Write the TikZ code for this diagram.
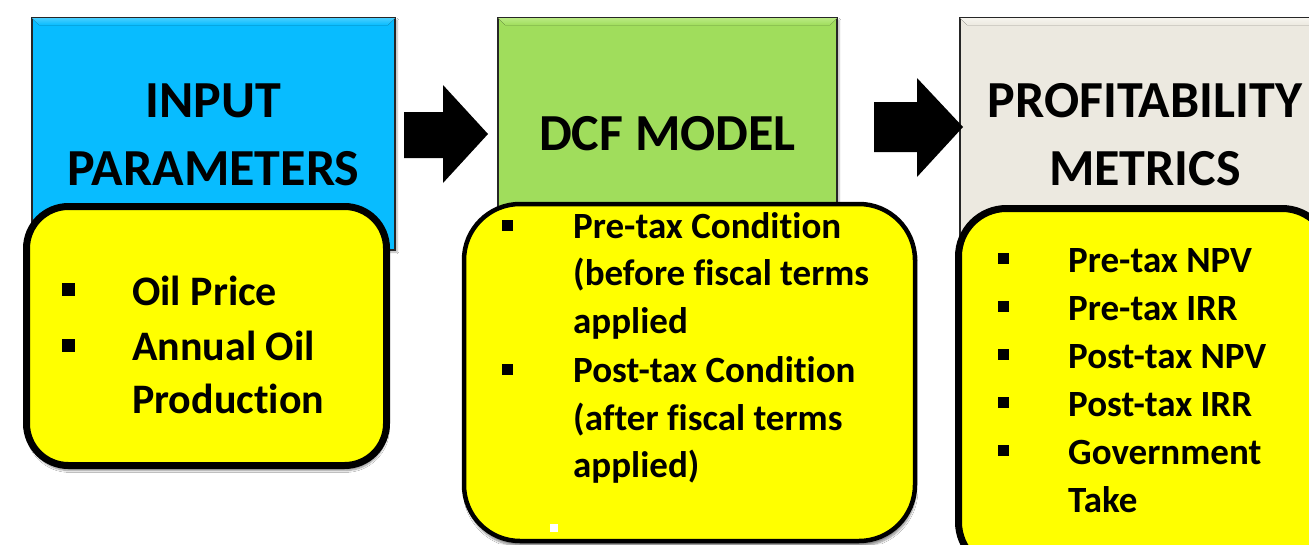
\documentclass[tikz,border=0pt]{standalone}
\usepackage{fontspec}
\setmainfont{Carlito}[Ligatures=NoCommon]
\usetikzlibrary{calc,shadows.blur}

\definecolor{inblue}{RGB}{8,188,255}
\definecolor{inbluelt}{RGB}{70,206,255}
\definecolor{dcfgreen}{RGB}{160,221,92}
\definecolor{dcfgreenlt}{RGB}{185,234,130}
\definecolor{metbeige}{RGB}{236,233,224}
\definecolor{metbeigelt}{RGB}{246,244,238}
\definecolor{listyellow}{RGB}{255,255,0}

\begin{document}
\begin{tikzpicture}[x=1pt,y=-1pt,
  stagebox/.style={draw=black!85, line width=1.3pt, inner sep=0pt,
    blur shadow={shadow xshift=2pt, shadow yshift=-2pt, shadow opacity=30, shadow blur steps=5}},
  listbox/.style={draw=black, fill=listyellow, inner sep=0pt,
    blur shadow={shadow xshift=1pt, shadow yshift=-5pt, shadow opacity=45, shadow blur steps=8}},
  heading/.style={font=\bfseries\fontsize{52}{62}\selectfont, inner sep=0pt, anchor=base},
  itemlarge/.style={font=\bfseries\fontsize{42}{50}\selectfont, inner sep=0pt, anchor=base west},
  itemsmall/.style={font=\bfseries\fontsize{37}{44}\selectfont, inner sep=0pt, anchor=base west},
  bulletsq/.style={fill=black, minimum size=11pt, inner sep=0pt},
  blockarrow/.style={fill=black}
]
\useasboundingbox (0,0) rectangle (1309,544);
\clip (0,0) rectangle (1309,544);
\fill[white] (0,0) rectangle (1309,544);

% ---- stage boxes ----
\node[stagebox, fill=inblue, minimum width=363pt, minimum height=232pt] (inbox) at (213.5,134) {};
\fill[top color=inbluelt, bottom color=inblue]
  ($(inbox.north west)+(0.7,0.7)$) -- ($(inbox.north east)+(-0.7,0.7)$) -- ++(-7,7)
  -- ($(inbox.north west)+(7.7,7.7)$) -- cycle;

\node[stagebox, fill=dcfgreen, minimum width=339pt, minimum height=212pt] (dcfbox) at (667.5,124) {};
\fill[top color=dcfgreenlt, bottom color=dcfgreen]
  ($(dcfbox.north west)+(0.7,0.7)$) -- ($(dcfbox.north east)+(-0.7,0.7)$) -- ++(-7,7)
  -- ($(dcfbox.north west)+(7.7,7.7)$) -- cycle;

\node[stagebox, fill=metbeige, minimum width=370pt, minimum height=222pt] (metbox) at (1145,129) {};
\fill[top color=metbeigelt, bottom color=metbeige]
  ($(metbox.north west)+(0.7,0.7)$) -- ($(metbox.north east)+(-0.7,0.7)$) -- ++(-7,7)
  -- ($(metbox.north west)+(7.7,7.7)$) -- cycle;

% ---- headings ----
\node[heading] (hin1) at (213.5,117) {INPUT};
\node[heading] (hin2) at (213.5,185) {PARAMETERS};
\node[heading] (hdcf) at (667.5,150) {DCF MODEL};
\node[heading] (hmet1) at (1145,117) {PROFITABILITY};
\node[heading] (hmet2) at (1145,185) {METRICS};

% ---- block arrows between stages ----
\fill[blockarrow] (404,112) -- (443,112) -- (443,85) -- (488,134) -- (443,183) -- (443,158) -- (404,158) -- cycle;
\fill[blockarrow] (874,102) -- (917,102) -- (917,78) -- (963,127) -- (917,177) -- (917,152) -- (874,152) -- cycle;

% ---- yellow lists ----
\node[listbox, line width=7pt, rounded corners=42pt, minimum width=360pt, minimum height=259pt] (inlist) at (206.5,336) {};
\node[listbox, line width=4.5pt, rounded corners=56pt, minimum width=451pt, minimum height=337pt] (dcflist) at (689.5,372.5) {};
\node[listbox, line width=7pt, rounded corners=48pt, minimum width=371.5pt, minimum height=361.5pt] (metlist) at (1144.25,389.25) {};

% input parameters
\node[bulletsq, minimum size=13pt] (bin1) at (68.5,289) {};
\node[bulletsq, minimum size=13pt] (bin2) at (68.5,345) {};
\node[itemlarge] (tin1) at (132,305) {Oil Price};
\node[itemlarge] (tin2) at (132,360) {Annual Oil};
\node[itemlarge] (tin3) at (132,413) {Production};

% dcf model
\node[bulletsq] (bdcf1) at (507.5,225) {};
\node[bulletsq] (bdcf2) at (507.5,369) {};
\node[itemsmall] (tdcf1) at (573,238) {Pre-tax Condition};
\node[itemsmall] (tdcf2) at (573,285) {(before fiscal terms};
\node[itemsmall] (tdcf3) at (573,333) {applied};
\node[itemsmall] (tdcf4) at (573,382) {Post-tax Condition};
\node[itemsmall] (tdcf5) at (573,430) {(after fiscal terms};
\node[itemsmall] (tdcf6) at (573,477) {applied)};
\node[fill=white, minimum size=8pt, inner sep=0pt] (bdcf3) at (554,527.5) {};

% profitability metrics
\foreach \yb [count=\i] in {258,306,354,402,450}
  \node[bulletsq] (bmet\i) at (1003.5,\yb) {};
\node[itemsmall] (tmet1) at (1068,272) {Pre-tax NPV};
\node[itemsmall] (tmet2) at (1068,320) {Pre-tax IRR};
\node[itemsmall] (tmet3) at (1068,368) {Post-tax NPV};
\node[itemsmall] (tmet4) at (1068,416) {Post-tax IRR};
\node[itemsmall] (tmet5) at (1068,464) {Government};
\node[itemsmall] (tmet6) at (1068,512) {Take};
\end{tikzpicture}
\end{document}
